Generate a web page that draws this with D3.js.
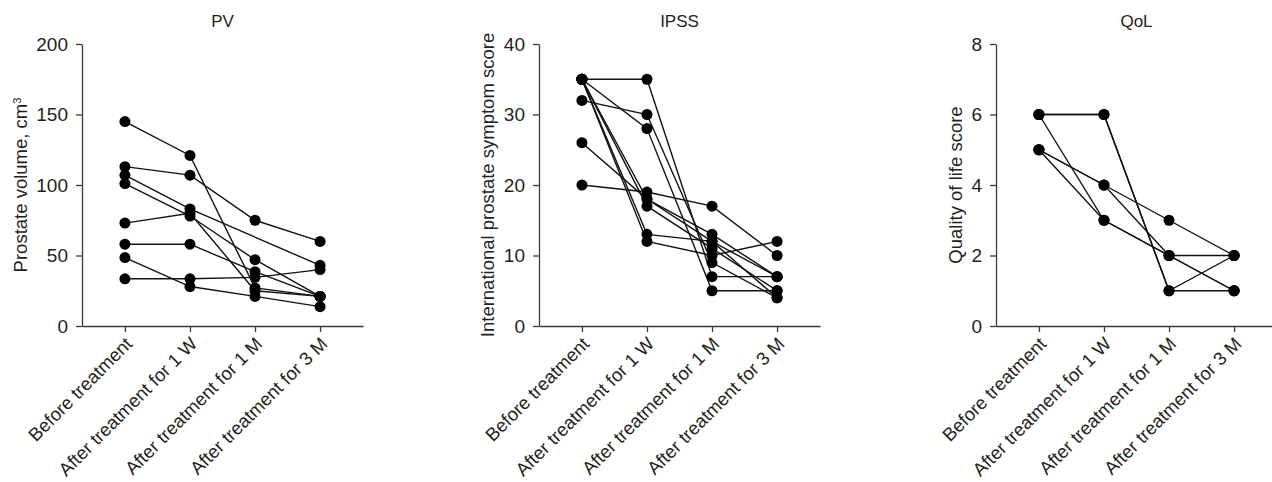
<!DOCTYPE html>
<html>
<head>
<meta charset="utf-8">
<script src="https://cdn.jsdelivr.net/npm/d3@7"></script>
<style>
  body { margin: 0; background: #fff; }
  svg text { font-family: "Liberation Sans", Arial, Helvetica, sans-serif; fill: #231f20; }
</style>
</head>
<body>
<div id="chart"></div>
<script>
// time points on the x axis
const categories = ['Before treatment', 'After treatment for 1 W', 'After treatment for 1 M', 'After treatment for 3 M'];

// one row per patient (null = not plotted)
const pvValues = [
    [145, 121, 27, 21],
    [113, 107, 75, 60],
    [107, 83, null, 43],
    [101, 78, 47, 21],
    [73, 80, 25, 21],
    [58, 58, 38.5, 21],
    [48.5, 28, 21, 13.7],
    [33.5, 33.5, 34.5, 40]
];
const ipssValues = [
    [35, 35, 7, 7],
    [35, 28, 5, 5],
    [32, 30, 9, 4],
    [35, 13, 12, 7],
    [35, 12, 10, 12],
    [35, 17, 11, 5],
    [26, 18, 13, 7],
    [20, 19, 17, 10],
    [35, 18, 12, 4]
];
const qolValues = [
    [6, 6, 1, 2],
    [6, 6, 1, 1],
    [6, 3, 2, 2],
    [5, 3, 2, 1],
    [5, 4, 3, 2],
    [5, 4, 2, 1]
];

const titles = ['PV', 'IPSS', 'QoL'];
const yLabels = ['Prostate volume, cm', 'International prostate symptom score', 'Quality of life score'];
const yMaxes = [200, 40, 8];
const yTicks = [[0, 50, 100, 150, 200], [0, 10, 20, 30, 40], [0, 2, 4, 6, 8]];

const width = 1272, height = 482;
const svg = d3.select('#chart').append('svg')
    .attr('width', width)
    .attr('height', height);

// panel geometry
const panelLeft = [82, 539, 996];
const plotW = 281, plotTop = 44, plotBottom = 326;

const panels = [
    { title: titles[0], label: yLabels[0], sup: '3', max: yMaxes[0], ticks: yTicks[0], rows: pvValues },
    { title: titles[1], label: yLabels[1], sup: null, max: yMaxes[1], ticks: yTicks[1], rows: ipssValues },
    { title: titles[2], label: yLabels[2], sup: null, max: yMaxes[2], ticks: yTicks[2], rows: qolValues }
];

panels.forEach((p, k) => {
    const g = svg.append('g').attr('transform', `translate(${panelLeft[k]},0)`);

    const x = d3.scalePoint()
        .domain(categories)
        .range([0, plotW])
        .padding(0.66);
    const y = d3.scaleLinear()
        .domain([0, p.max])
        .range([plotBottom, plotTop]);

    // y axis
    const yAxisG = g.append('g')
        .call(d3.axisLeft(y).tickValues(p.ticks).tickSize(6).tickPadding(8).tickSizeOuter(0));
    yAxisG.select('.domain').attr('stroke', '#3a3a3a').attr('stroke-width', 1.3);
    yAxisG.selectAll('.tick line').attr('stroke', '#3a3a3a').attr('stroke-width', 1.3);
    yAxisG.selectAll('.tick text')
        .style('font-size', '19px')
        .attr('fill', '#231f20');

    // x axis, labels slanted
    const xAxisG = g.append('g')
        .attr('transform', `translate(0,${plotBottom})`)
        .call(d3.axisBottom(x).tickSize(6).tickSizeOuter(0));
    xAxisG.select('.domain').attr('stroke', '#3a3a3a').attr('stroke-width', 1.3);
    xAxisG.selectAll('.tick line').attr('stroke', '#3a3a3a').attr('stroke-width', 1.3);
    xAxisG.selectAll('.tick text')
        .style('font-size', '18.5px')
        .attr('fill', '#231f20')
        .attr('text-anchor', 'end')
        .attr('dy', '0')
        .attr('y', 0)
        .attr('transform', 'translate(8,19) rotate(-45)');

    // title
    g.append('text')
        .attr('x', plotW / 2)
        .attr('y', 27)
        .attr('text-anchor', 'middle')
        .style('font-size', '17px')
        .text(p.title);

    // y label, placed left of tick labels
    const bb = yAxisG.node().getBBox();
    const lab = g.append('text')
        .attr('transform', `translate(${bb.x - 16},${(plotTop + plotBottom) / 2}) rotate(-90)`)
        .attr('text-anchor', 'middle')
        .attr('dy', '0.35em')
        .style('font-size', '18.5px')
        .text(p.label);
    if (p.sup) {
        lab.append('tspan')
            .attr('dy', '-0.55em')
            .style('font-size', '11px')
            .text(p.sup);
    }

    // patient lines
    const line = d3.line()
        .x(d => x(d.cat))
        .y(d => y(d.v));
    p.rows.forEach(row => {
        const pts = row.map((v, i) => ({ cat: categories[i], v: v })).filter(d => d.v != null);
        g.append('path')
            .datum(pts)
            .attr('d', line)
            .attr('fill', 'none')
            .attr('stroke', '#111')
            .attr('stroke-width', 1.4);
    });

    // dots
    const dots = [];
    p.rows.forEach(row => row.forEach((v, i) => { if (v != null) dots.push({ cat: categories[i], v: v }); }));
    g.selectAll('circle.dot')
        .data(dots)
        .enter()
        .append('circle')
        .attr('class', 'dot')
        .attr('cx', d => x(d.cat))
        .attr('cy', d => y(d.v))
        .attr('r', 5.5)
        .attr('fill', '#000');
});
</script>
</body>
</html>
